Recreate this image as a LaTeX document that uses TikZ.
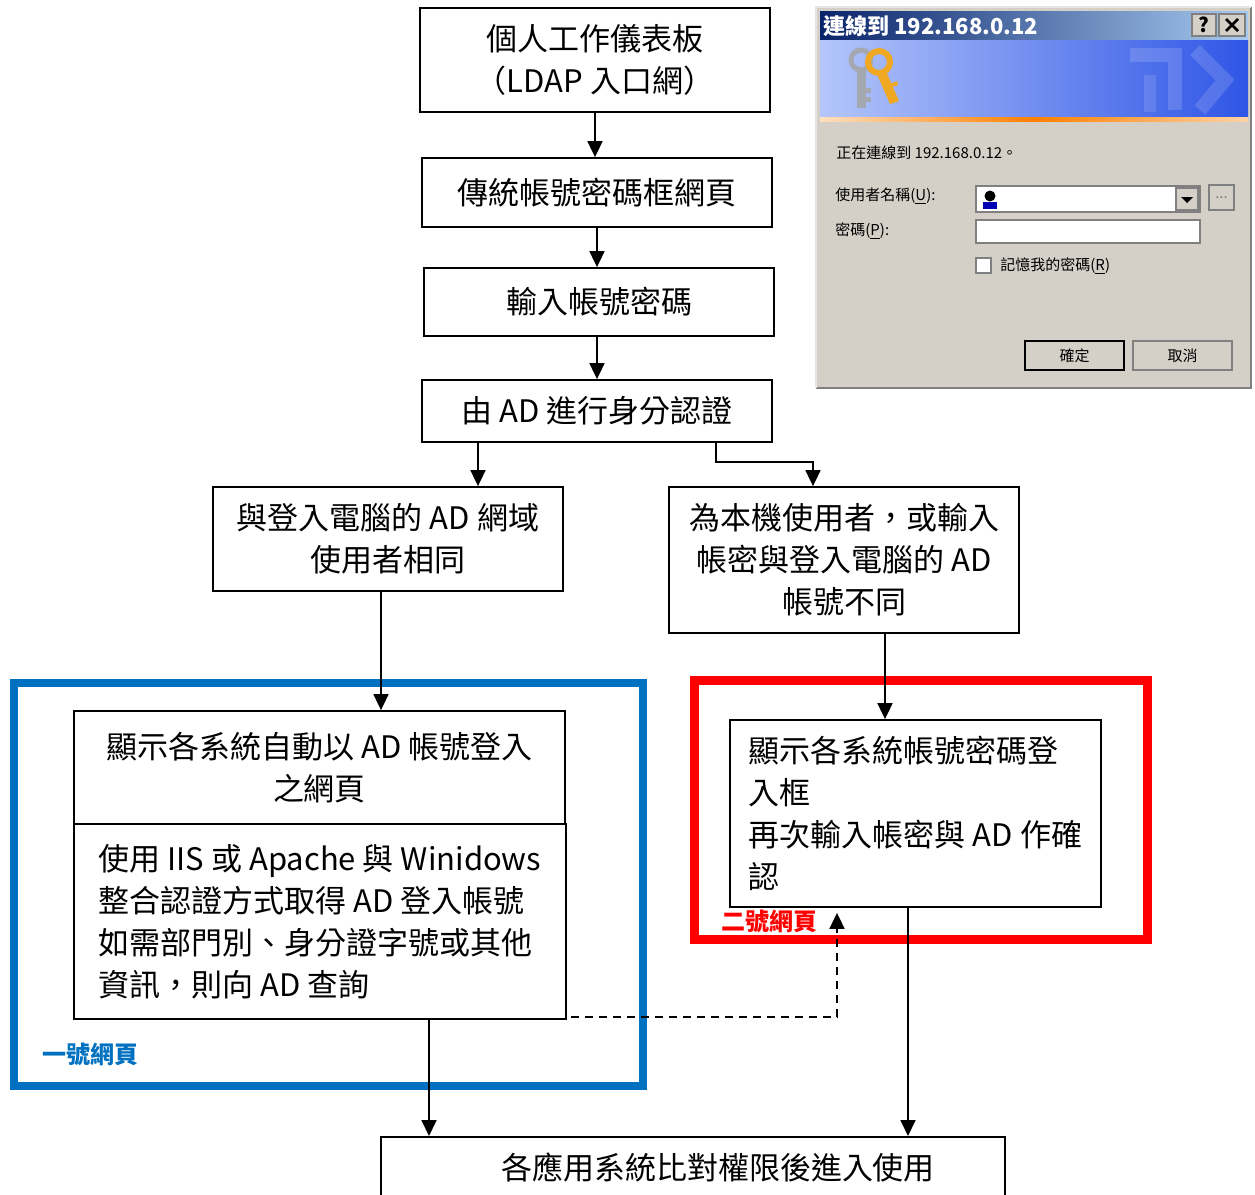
\documentclass[tikz,border=0pt]{standalone}
\usepackage{fontspec}
\setmainfont{Noto Sans CJK TC}
\usetikzlibrary{arrows.meta}
\definecolor{pageone}{HTML}{0070C0}
\definecolor{pagetwo}{HTML}{FF0000}
\definecolor{winface}{HTML}{D4D0C8}
\definecolor{winshadow}{HTML}{808080}
\definecolor{titledark}{HTML}{0A246A}
\definecolor{titlelight}{HTML}{A6CAF0}
\definecolor{bannerlight}{HTML}{B4C6FA}
\definecolor{bannerdark}{HTML}{2F55E6}
\definecolor{keysilver}{HTML}{A4A8B0}
\definecolor{keygold}{HTML}{F0A820}
\tikzset{
  flow/.style={draw, line width=0.9pt, align=center, inner sep=0pt,
    font=\fontsize{15.5}{21}\selectfont},
  arr/.style={line width=0.9pt, -{Triangle[width=7.5pt,length=8pt]}},
  pagelabel/.style={font=\bfseries\fontsize{12}{12}\selectfont},
  winbtn/.style={fill=winface, draw=winshadow, line width=0.6pt, inner sep=0pt,
    font=\fontsize{7.5}{9}\selectfont},
  winfield/.style={fill=white, draw=winshadow, line width=0.8pt},
  wintext/.style={font=\fontsize{7.5}{9}\selectfont, anchor=west, inner sep=0pt}
}

\begin{document}
\begin{tikzpicture}[x=0.5pt,y=-0.5pt]
% 1 unit = one pixel of the page, y grows downwards
\newcommand{\boxw}{175pt}
\useasboundingbox (0,0) rectangle (1255,1195);

% page frames
\draw [pageone, line width=4pt] (14,683) rectangle (643,1086);
\draw [pagetwo, line width=4.5pt] (694.5,680.5) rectangle (1147.5,939.5);
\node [pagelabel, text=pageone] (onelabel) at (90,1054) {一號網頁};
\node [pagelabel, text=pagetwo] (twolabel) at (769,921) {二號網頁};

% flow boxes
\node [flow, minimum width=\boxw, minimum height=52pt] (dash) at (595,60) {個人工作儀表板\\（LDAP 入口網）};
\node [flow, minimum width=\boxw, minimum height=34.5pt] (legacy) at (597,192.5) {傳統帳號密碼框網頁};
\node [flow, minimum width=\boxw, minimum height=34pt] (input) at (599,302) {輸入帳號密碼};
\node [flow, minimum width=\boxw, minimum height=31pt] (adauth) at (597,411) {由 AD 進行身分認證};
\node [flow, minimum width=\boxw, minimum height=52pt] (same) at (388,539) {與登入電腦的 AD 網域\\使用者相同};
\node [flow, minimum width=\boxw, minimum height=73pt] (diff) at (844,560) {為本機使用者，或輸入\\帳密與登入電腦的 AD\\帳號不同};
\node [flow, minimum width=245.5pt, minimum height=56.5pt] (autopage) at (319.5,767.5) {顯示各系統自動以 AD 帳號登入\\之網頁};
\node [flow, align=left, minimum width=246pt, minimum height=97.5pt] (iisbox) at (320,921.5) {使用 IIS 或 Apache 與 Winidows\\整合認證方式取得 AD 登入帳號\\如需部門別、身分證字號或其他\\資訊，則向 AD 查詢};
\node [flow, align=left, minimum width=185.5pt, minimum height=93.5pt] (pwpage) at (915.5,813.5) {顯示各系統帳號密碼登\\入框\\再次輸入帳密與 AD 作確\\認};
\node [flow, minimum width=312pt, inner ysep=8pt, anchor=north] (apps) at (693,1136) {\hspace*{25pt}各應用系統比對權限後進入使用};

% connectors
\draw [arr] (dash.south) -- (dash.south |- legacy.north);
\draw [arr] (legacy.south) -- (legacy.south |- input.north);
\draw [arr] ([xshift=-1pt]input.south) -- ([xshift=-1pt]input.south |- adauth.north);
\draw [arr] ([xshift=-59.5pt]adauth.south) -- ([xshift=-59.5pt]adauth.south |- same.north);
\draw [arr] ([xshift=59.5pt]adauth.south) -- ++(0,19) -| ([xshift=-15.5pt]diff.north);
\draw [arr] ([xshift=-3.5pt]same.south) -- ([xshift=-3.5pt]same.south |- autopage.north);
\draw [arr] ([xshift=20.5pt]diff.south) -- ([xshift=20.5pt]diff.south |- pwpage.north);
\draw [arr] ([xshift=54.5pt]iisbox.south) -- ([xshift=54.5pt]iisbox.south |- apps.north);
\draw [arr] ([xshift=-3.75pt]pwpage.south) -- ([xshift=-3.75pt]pwpage.south |- apps.north);
\draw [arr, dash pattern=on 4pt off 3pt] ([xshift=2pt,yshift=1.5pt]iisbox.south east) -| ([xshift=-39.25pt,yshift=-2.5pt]pwpage.south);

% login dialog
\fill [winface] (816,7) rectangle (1251,388);
\draw [winshadow, line width=1pt] (816,388) -- (1251,388) -- (1251,7);
\draw [white!90!black, line width=1pt] (816,388) -- (816,7) -- (1251,7);
\shade [left color=titledark, right color=titlelight] (820,11) rectangle (1248,39);
\node [anchor=west, inner sep=0pt, text=white, font=\bfseries\fontsize{11}{11}\selectfont] (wintitle) at (823,26) {連線到 192.168.0.12};
\node [winbtn, minimum width=12pt, minimum height=11pt, font=\bfseries\fontsize{10}{10}\selectfont] (helpbtn) at (1204,25) {?};
\node [winbtn, minimum width=13pt, minimum height=11pt] (closebtn) at (1232,25) {};
\draw [line width=1.4pt] ([shift={(-3pt,-3pt)}]closebtn.center) -- ([shift={(3pt,3pt)}]closebtn.center);
\draw [line width=1.4pt] ([shift={(-3pt,3pt)}]closebtn.center) -- ([shift={(3pt,-3pt)}]closebtn.center);
\shade [left color=bannerlight, right color=bannerdark] (820,40) rectangle (1248,117);
\shade [left color=orange!25, right color=orange!35, middle color=orange] (820,117) rectangle (1248,121);
% faint key watermark
\draw [white, opacity=0.15, line width=7pt] (1130,55) -- (1175,55) -- (1175,110);
\draw [white, opacity=0.15, line width=7pt] (1195,50) -- (1225,80) -- (1200,110);
\draw [white, opacity=0.12, line width=6pt] (1150,75) -- (1150,112);
% keys
\draw [keysilver, line width=2.5pt] (861,60) circle (10);
\fill [keysilver] (857,69) rectangle (866,108);
\fill [keysilver] (866,88) rectangle (871,93) (866,97) rectangle (871,102);
\draw [keygold, line width=3pt] (879,62) circle (11);
\fill [keygold] (876,72) -- (885,69) -- (899,101) -- (890,104) -- cycle;
\fill [keygold] (890,84) -- (897,81) -- (898,85) -- (892,87) -- cycle;
% body
\node [wintext] (connmsg) at (836,153) {正在連線到 192.168.0.12。};
\node [wintext] (userlbl) at (835,196) {使用者名稱(\underline{U}):};
\node [wintext] (pwlbl) at (835,231) {密碼(\underline{P}):};
\draw [winfield] (976,186) rectangle (1200,212);
\node [winbtn, minimum width=11pt, minimum height=11pt] (dropbtn) at (1187,199) {};
\fill ([shift={(-3pt,1pt)}]dropbtn.center) -- ([shift={(3pt,1pt)}]dropbtn.center) -- ([shift={(0pt,-2pt)}]dropbtn.center) -- cycle;
\fill [black] (990,196) circle (5.5);
\fill [blue!70!black] (983,202) rectangle (997,209);
\node [winbtn, minimum width=12.5pt, minimum height=12.5pt, text=winshadow] (morebtn) at (1221.5,197.5) {...};
\draw [winfield] (976,220) rectangle (1200,243);
\draw [winfield] (976,258) rectangle (991,273);
\node [wintext] (remember) at (1000,266) {記憶我的密碼(\underline{R})};
\node [winbtn, draw=black, line width=1pt, minimum width=49.5pt, minimum height=14.5pt] (okbtn) at (1074.5,355.5) {確定};
\node [winbtn, minimum width=49.5pt, minimum height=14.5pt] (cancelbtn) at (1182.5,355.5) {取消};
\end{tikzpicture}
\end{document}
